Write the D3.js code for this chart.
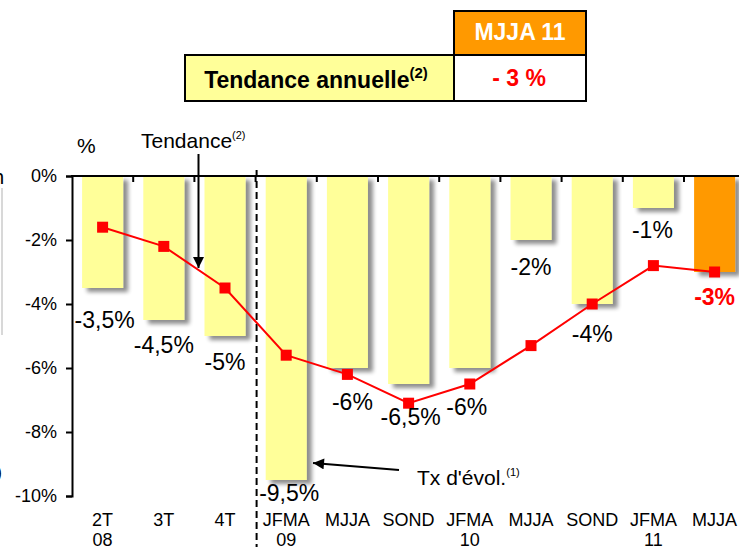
<!DOCTYPE html>
<html>
<head>
<meta charset="utf-8">
<script src="https://cdn.jsdelivr.net/npm/d3@7"></script>
<style>
  html, body { margin: 0; padding: 0; background: #fff; }
  svg { display: block; font-family: Arial, "Liberation Sans", sans-serif; }
</style>
</head>
<body>
<svg id="chart" width="739" height="547"></svg>
<script>
// Periods (two-line labels: period / year)
const periods = ["2T", "3T", "4T", "JFMA", "MJJA", "SOND", "JFMA", "MJJA", "SOND", "JFMA", "MJJA"];
const years   = ["08", "", "", "09", "", "", "10", "", "", "11", ""];

// Growth rate per period (bars, %)
const evolution = [-3.5, -4.5, -5, -9.5, -6, -6.5, -6, -2, -4, -1, -3];

// Annual trend (line, %)
const tendance = [-1.6, -2.2, -3.5, -5.6, -6.2, -7.1, -6.5, -5.3, -4.0, -2.8, -3.0];

// Y axis ticks
const yTicks = [0, -2, -4, -6, -8, -10];

// Summary table
const tableHeader = "MJJA 11";
const tableRowLabel = "Tendance annuelle";
const tableValue = "- 3 %";

// Nudges for the value labels (baseline offset below the bar end, horizontal shift)
const labelDy = [40, 33, 34, 21, 42, 41, 47, 35, 38, 30, 33];
const labelDx = [2, 0, 0, 3, 5, 2, -3, 0, 0, -1, 0];

const svg = d3.select("#chart");

const yellow = "#FFFF99", orange = "#FF9900", red = "#FF0000";
const last = evolution.length - 1;

// Drop shadow for the bars
const defs = svg.append("defs");
const f = defs.append("filter").attr("id", "shadow")
  .attr("x", "-20%").attr("y", "-20%").attr("width", "160%").attr("height", "160%");
f.append("feGaussianBlur").attr("in", "SourceAlpha").attr("stdDeviation", 2).attr("result", "b");
f.append("feOffset").attr("in", "b").attr("dx", 5).attr("dy", 4).attr("result", "o");
f.append("feComponentTransfer").attr("in", "o").attr("result", "s")
  .append("feFuncA").attr("type", "linear").attr("slope", 0.45);
const m = f.append("feMerge");
m.append("feMergeNode").attr("in", "s");
m.append("feMergeNode").attr("in", "SourceGraphic");

// Scales
const x = d3.scaleBand()
  .domain(d3.range(periods.length))
  .range([72, 745.2])
  .paddingInner(0.33)
  .paddingOuter(0.165);
const y = d3.scaleLinear().domain([0, -10]).range([176, 496]);
const cx = i => x(i) + x.bandwidth() / 2;
const boundary = k => x.range()[0] + k * x.step();

// Fragments of neighbouring content at the left edge
svg.append("text").attr("x", -7).attr("y", 184).attr("font-size", 20).attr("fill", "#000").text("h");
svg.append("line").attr("x1", 2).attr("x2", 2).attr("y1", 188).attr("y2", 335)
  .attr("stroke", "#d8d8d8").attr("stroke-width", 2);
svg.append("text").attr("x", -4).attr("y", 478).attr("font-size", 18).attr("fill", "#000").text(")");

// Bars
svg.append("g").selectAll("rect")
  .data(evolution)
  .join("rect")
  .attr("x", (d, i) => x(i))
  .attr("y", y(0))
  .attr("width", x.bandwidth())
  .attr("height", d => y(d) - y(0))
  .attr("fill", (d, i) => i === last ? orange : yellow)
  .attr("filter", "url(#shadow)");

// Y axis
const yAxis = d3.axisLeft(y).tickValues(yTicks).tickSize(6).tickPadding(9)
  .tickFormat(d => d + "%");
const gy = svg.append("g").attr("transform", "translate(72,0)").call(yAxis);
gy.select(".domain").attr("stroke", "#000").attr("stroke-width", 2);
gy.selectAll(".tick line").attr("stroke", "#000").attr("stroke-width", 2);
gy.selectAll(".tick text").attr("font-size", 18).attr("font-family", "Arial, 'Liberation Sans', sans-serif").attr("fill", "#000");

// X axis line at 0% with inward ticks at category boundaries
svg.append("line").attr("x1", 71).attr("x2", 739).attr("y1", y(0)).attr("y2", y(0))
  .attr("stroke", "#000").attr("stroke-width", 2);
svg.append("g").selectAll("line")
  .data(d3.range(1, periods.length + 1))
  .join("line")
  .attr("x1", k => boundary(k)).attr("x2", k => boundary(k))
  .attr("y1", y(0)).attr("y2", y(0) + 6)
  .attr("stroke", "#000").attr("stroke-width", 2);

// Category labels
const xl = svg.append("g").attr("font-size", 18).attr("text-anchor", "middle").attr("fill", "#000");
xl.selectAll("text.p").data(periods).join("text").attr("class", "p")
  .attr("x", (d, i) => cx(i)).attr("y", 526).text(d => d);
xl.selectAll("text.yr").data(years).join("text").attr("class", "yr")
  .attr("x", (d, i) => cx(i)).attr("y", 546).text(d => d);

// "%" unit
svg.append("text").attr("x", 77).attr("y", 153).attr("font-size", 21).text("%");

// Dashed separator between 2008 quarters and four-month periods
svg.append("line").attr("x1", boundary(3) + 1).attr("x2", boundary(3) + 1)
  .attr("y1", 170).attr("y2", 547)
  .attr("stroke", "#000").attr("stroke-width", 2).attr("stroke-dasharray", "7,4");

// Trend line
svg.append("path")
  .datum(tendance)
  .attr("d", d3.line().x((d, i) => cx(i)).y(d => y(d)))
  .attr("fill", "none").attr("stroke", red).attr("stroke-width", 2);
svg.append("g").selectAll("rect")
  .data(tendance)
  .join("rect")
  .attr("x", (d, i) => cx(i) - 5.5).attr("y", d => y(d) - 5.5)
  .attr("width", 11).attr("height", 11).attr("fill", red);

// Value labels
svg.append("g").attr("font-size", 23).attr("text-anchor", "middle")
  .selectAll("text")
  .data(evolution)
  .join("text")
  .attr("x", (d, i) => cx(i) + labelDx[i])
  .attr("y", (d, i) => y(d) + labelDy[i])
  .attr("fill", (d, i) => i === last ? red : "#000")
  .attr("font-weight", (d, i) => i === last ? "bold" : null)
  .text(d => String(d).replace(".", ",") + "%");

// Annotations with arrows
defs.append("marker").attr("id", "arrow").attr("viewBox", "0 0 10 10")
  .attr("refX", 10).attr("refY", 5).attr("markerWidth", 14).attr("markerHeight", 11)
  .attr("markerUnits", "userSpaceOnUse").attr("orient", "auto")
  .append("path").attr("d", "M0,0 L10,5 L0,10 Z").attr("fill", "#000");

const t1 = svg.append("text").attr("x", 141).attr("y", 148).attr("font-size", 21);
t1.append("tspan").text("Tendance");
t1.append("tspan").attr("font-size", 11).attr("dy", -9).text("(2)");
svg.append("line").attr("x1", 198.5).attr("y1", 154).attr("x2", 198.5).attr("y2", 268)
  .attr("stroke", "#000").attr("stroke-width", 2).attr("marker-end", "url(#arrow)");

const t2 = svg.append("text").attr("x", 417).attr("y", 485).attr("font-size", 21);
t2.append("tspan").text("Tx d'évol.");
t2.append("tspan").attr("font-size", 11).attr("dy", -9).text("(1)");
svg.append("line").attr("x1", 399).attr("y1", 470).attr("x2", 313).attr("y2", 463)
  .attr("stroke", "#000").attr("stroke-width", 2).attr("marker-end", "url(#arrow)");

// Summary table
const tb = svg.append("g");
tb.append("rect").attr("x", 454).attr("y", 11).attr("width", 132).attr("height", 44)
  .attr("fill", orange).attr("stroke", "#000").attr("stroke-width", 2);
tb.append("rect").attr("x", 185).attr("y", 55).attr("width", 269).attr("height", 46)
  .attr("fill", yellow).attr("stroke", "#000").attr("stroke-width", 2);
tb.append("rect").attr("x", 454).attr("y", 55).attr("width", 132).attr("height", 46)
  .attr("fill", "#fff").attr("stroke", "#000").attr("stroke-width", 2);
tb.append("text").attr("x", 520).attr("y", 40).attr("text-anchor", "middle")
  .attr("font-size", 23).attr("font-weight", "bold").attr("fill", "#fff").text(tableHeader);
tb.append("text").attr("x", 519).attr("y", 86).attr("text-anchor", "middle")
  .attr("font-size", 23).attr("font-weight", "bold").attr("fill", red).text(tableValue);
const tl = tb.append("text").attr("x", 316).attr("y", 88).attr("text-anchor", "middle")
  .attr("font-size", 23).attr("font-weight", "bold").attr("fill", "#000");
tl.append("tspan").text(tableRowLabel);
tl.append("tspan").attr("font-size", 15).attr("dy", -10).text("(2)");
</script>
</body>
</html>
